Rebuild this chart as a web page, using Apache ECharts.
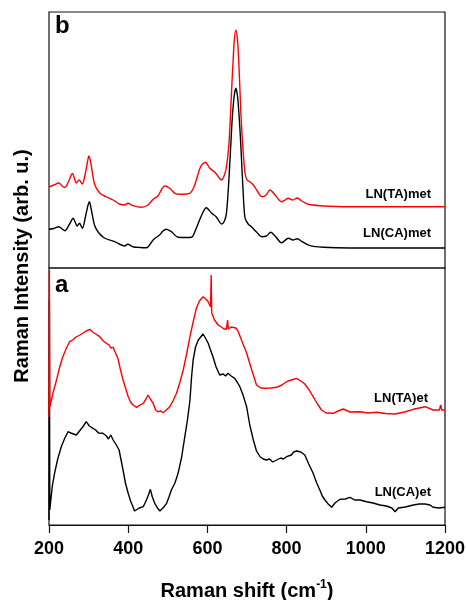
<!DOCTYPE html>
<html>
<head>
    <meta charset="utf-8">
    <title></title>
    <script src="https://cdn.jsdelivr.net/npm/echarts@6.0.0/dist/echarts.min.js"></script>
    <style>
        html, body { margin: 0; padding: 0; background: #fff; }
        #main { width: 466px; height: 600px; }
    </style>
</head>
<body>
<div id="main"></div>
<script type="text/javascript">
    // x ticks
    var xTicks = [200, 400, 600, 800, 1000, 1200];

    // panel b : [Raman shift, intensity (arb. u.)]
    var taMet = [[200, 81], [212, 83], [225, 85], [233, 82], [240, 80.5], [250, 87], [259, 94.5], [264, 90], [269, 85], [276, 88],
        [284, 84], [292, 95], [297, 106], [301, 112], [306, 104], [315, 84], [328, 75], [345, 71], [362, 68], [378, 64], [391, 63],
        [399, 64.7], [412, 62.3], [433, 60.7], [450, 63], [463, 68.7], [475, 72], [485, 79], [492, 82], [505, 79.7],
        [518, 74.7], [530, 73.7], [545, 74], [556, 74.7], [565, 80], [572, 88], [583, 101.3], [595, 105.7], [606, 99.7],
        [619, 95.7], [630, 90], [636, 88], [643, 93], [648, 101], [654, 122], [658, 151], [662, 185], [665, 208], [668, 228],
        [672, 238], [676, 228], [679, 208], [682, 180], [685, 151], [690, 118], [695, 95], [700, 88], [707, 86.3], [716, 83],
        [726, 77], [737, 71.3], [748, 73], [758, 78], [771, 73], [787, 66.3], [796, 68], [804, 69.7], [815, 68], [827, 70],
        [838, 67], [855, 63.7], [884, 62.3], [960, 61.3], [1200, 61.3]];
    var caMet = [[200, 38.7], [212, 39.5], [225, 41.3], [233, 39], [240, 37.3], [252, 44], [261, 49.7], [266, 46], [271, 42],
        [277, 44.7], [284, 39.7], [293, 53], [298, 62], [302, 66.3], [307, 58], [317, 40.7], [337, 30.7], [366, 26.3], [391, 22],
        [399, 23.7], [412, 21.3], [430, 20.5], [446, 20.3], [463, 28], [479, 33], [488, 37], [496, 38.7], [509, 36.3], [526, 30.7],
        [545, 30.5], [560, 30.7], [568, 36], [577, 44.7], [588, 55], [597, 60.3], [611, 54.7], [622, 51.3], [636, 44], [643, 47],
        [648, 54.7], [653, 80], [658, 115], [662, 145], [665, 161.3], [668, 173], [672, 179.7], [676, 172], [679, 158], [682, 140],
        [685, 118], [690, 78], [695, 50], [703, 44], [711, 41.3], [724, 36], [737, 31.3], [749, 32], [760, 35.7], [771, 32],
        [787, 25.3], [805, 29.7], [816, 28], [827, 29.3], [838, 26.7], [859, 22.3], [893, 20.7], [960, 20], [1200, 20]];

    // panel a
    var taEt = [[200, 108], [201, 255], [202, 118], [210, 132], [219, 145], [227, 158], [235, 168.3], [244, 177], [252, 183.3],
        [260, 185], [268, 188], [278, 190], [286, 192], [294, 194], [303, 195.7], [310, 193], [318, 191], [328, 188.3], [337, 184],
        [345, 181.7], [352, 180], [356, 177], [362, 177.7], [368, 172], [374, 166.7], [380, 156], [387, 145], [394, 136],
        [400, 128.3], [406, 123], [412, 120], [421, 117.7], [430, 120], [438, 121.7], [445, 126], [450, 130], [456, 126],
        [463, 121.7], [469, 115], [475, 113.3], [482, 114], [488, 112.3], [496, 115], [505, 118.3], [513, 124], [522, 131.7],
        [530, 142], [539, 155], [548, 172], [556, 188.3], [564, 203], [572, 216.7], [580, 224], [589, 228.3], [596, 226],
        [602, 223.3], [608, 218], [609.5, 250], [611, 212], [618, 205], [627, 200], [635, 198], [642, 196], [648, 195.7],
        [651, 205], [653, 196], [660, 198], [665, 200], [672, 197], [678, 193.3], [688, 183], [699, 172], [712, 155],
        [724, 140], [735, 137], [745, 136.7], [760, 137], [775, 137.7], [788, 140], [800, 143.3], [812, 145], [825, 146.7],
        [836, 144], [846, 141], [857, 135], [867, 128.3], [878, 121], [888, 115], [900, 112], [918, 111.7], [930, 114],
        [943, 116], [960, 113], [985, 113.3], [1005, 112], [1027, 112.7], [1050, 111.5], [1074, 111], [1098, 113],
        [1120, 115.7], [1150, 118.3], [1170, 115], [1186, 115], [1189, 120], [1192, 115], [1200, 115]];
    var caEt = [[200, 5], [201, 225], [202, 15], [208, 38], [214, 51.7], [222, 66], [231, 78.3], [240, 87], [248, 93.3],
        [255, 92], [262, 91], [269, 90], [275, 93], [280, 95], [287, 99], [294, 103.3], [302, 99], [311, 96.7], [318, 95],
        [325, 92], [330, 94], [336, 91.7], [345, 89], [350, 86], [356, 90], [362, 85], [370, 80], [377, 75], [382, 65],
        [387, 55], [393, 42], [400, 31.7], [406, 24], [412, 18.3], [416, 14], [421, 12.3], [428, 17], [433, 15], [438, 18.3],
        [446, 25], [452, 31], [456, 35.7], [461, 28], [467, 21.7], [474, 17], [480, 14], [484, 14.3], [490, 18], [497, 21.7],
        [503, 28], [509, 35], [518, 42], [526, 51.7], [535, 68], [543, 88.3], [550, 106], [556, 125], [560, 148], [564, 165],
        [570, 178], [577, 185], [583, 188], [589, 191], [595, 187], [602, 181.7], [608, 175], [614, 168.3], [622, 158],
        [631, 150], [640, 151], [646, 149], [652, 151.7], [660, 149], [669, 146.7], [675, 143], [682, 138.3], [690, 130],
        [699, 118.3], [707, 100], [716, 85], [724, 74], [733, 68.3], [741, 66], [749, 65], [757, 66], [765, 63], [775, 65],
        [785, 67], [792, 66], [800, 68.3], [812, 70], [818, 73], [825, 74], [836, 73], [846, 70], [856, 61], [867, 51.7],
        [876, 42], [884, 35], [890, 29], [897, 25], [905, 21], [914, 17.7], [922, 22], [935, 25.7], [948, 26], [960, 27.7],
        [972, 25], [985, 25], [1002, 23.3], [1018, 22], [1036, 20], [1052, 19], [1066, 17], [1074, 13.3], [1082, 17],
        [1100, 18], [1120, 20], [1135, 21], [1150, 21], [1162, 20], [1170, 17.7], [1185, 17], [1200, 17.7]];

    var FONT = '"Liberation Sans", Arial, sans-serif';

    var chart = echarts.init(document.getElementById('main'), null, {renderer: 'canvas'});

    function panelText(text, x, y, size, align) {
        return {
            type: 'text', x: x, y: y,
            style: {
                text: text, fill: '#000', font: 'bold ' + size + 'px ' + FONT,
                textAlign: align || 'left', textVerticalAlign: 'middle'
            }
        };
    }

    var option = {
        backgroundColor: '#fff',
        animation: false,
        grid: [
            {left: 49, right: 21, top: 12, height: 256, show: true, borderColor: '#111', borderWidth: 1.2, containLabel: false, outerBoundsMode: 'none'},
            {left: 49, right: 21, top: 268, height: 257, show: true, borderColor: '#111', borderWidth: 1.2, containLabel: false, outerBoundsMode: 'none'}
        ],
        xAxis: [
            {
                gridIndex: 0, type: 'value', min: 200, max: 1200, interval: 200,
                axisLine: {show: false}, axisTick: {show: false}, axisLabel: {show: false}, splitLine: {show: false}
            },
            {
                gridIndex: 1, type: 'value', min: 200, max: 1200, interval: 200,
                axisLine: {show: true, onZero: false, lineStyle: {color: '#111', width: 1.2}},
                axisTick: {show: true, length: 8, lineStyle: {color: '#111', width: 1.2}},
                axisLabel: {
                    margin: 15, color: '#000', fontSize: 18, fontWeight: 'bold', fontFamily: FONT,
                    formatter: function (v) { return xTicks.indexOf(v) >= 0 ? String(v) : ''; }
                },
                splitLine: {show: false},
                name: '{a|Raman shift (cm}{s|-1}{a|)}',
                nameLocation: 'middle', nameGap: 54,
                nameTextStyle: {
                    rich: {
                        a: {fontSize: 20, fontWeight: 'bold', fontFamily: FONT, color: '#000', lineHeight: 24},
                        s: {fontSize: 12, fontWeight: 'bold', fontFamily: FONT, color: '#000', verticalAlign: 'top', lineHeight: 12}
                    }
                }
            }
        ],
        yAxis: [
            {gridIndex: 0, type: 'value', min: 0, max: 256, show: false, splitLine: {show: false}},
            {gridIndex: 1, type: 'value', min: 0, max: 257, show: false, splitLine: {show: false}}
        ],
        series: [
            {name: 'LN(TA)met', type: 'line', xAxisIndex: 0, yAxisIndex: 0, data: taMet, showSymbol: false, smooth: 0.3,
                lineStyle: {color: '#ff0000', width: 1.4}, z: 3},
            {name: 'LN(CA)met', type: 'line', xAxisIndex: 0, yAxisIndex: 0, data: caMet, showSymbol: false, smooth: 0.3,
                lineStyle: {color: '#000', width: 1.4}, z: 2},
            {name: 'LN(TA)et', type: 'line', xAxisIndex: 1, yAxisIndex: 1, data: taEt, showSymbol: false,
                lineStyle: {color: '#ff0000', width: 1.4}, z: 3},
            {name: 'LN(CA)et', type: 'line', xAxisIndex: 1, yAxisIndex: 1, data: caEt, showSymbol: false,
                lineStyle: {color: '#000', width: 1.4}, z: 2}
        ],
        graphic: [
            panelText('b', 55, 26, 24),
            panelText('a', 55, 285, 24),
            panelText('LN(TA)met', 431, 194, 13, 'right'),
            panelText('LN(CA)met', 431, 233, 13, 'right'),
            panelText('LN(TA)et', 428, 398, 13, 'right'),
            panelText('LN(CA)et', 431, 492, 13, 'right'),
            {
                type: 'text', x: 22, y: 266, rotation: Math.PI / 2,
                style: {
                    text: 'Raman Intensity (arb. u.)', fill: '#000', font: 'bold 20px ' + FONT,
                    textAlign: 'center', textVerticalAlign: 'middle'
                }
            }
        ]
    };

    chart.setOption(option);
</script>
</body>
</html>
